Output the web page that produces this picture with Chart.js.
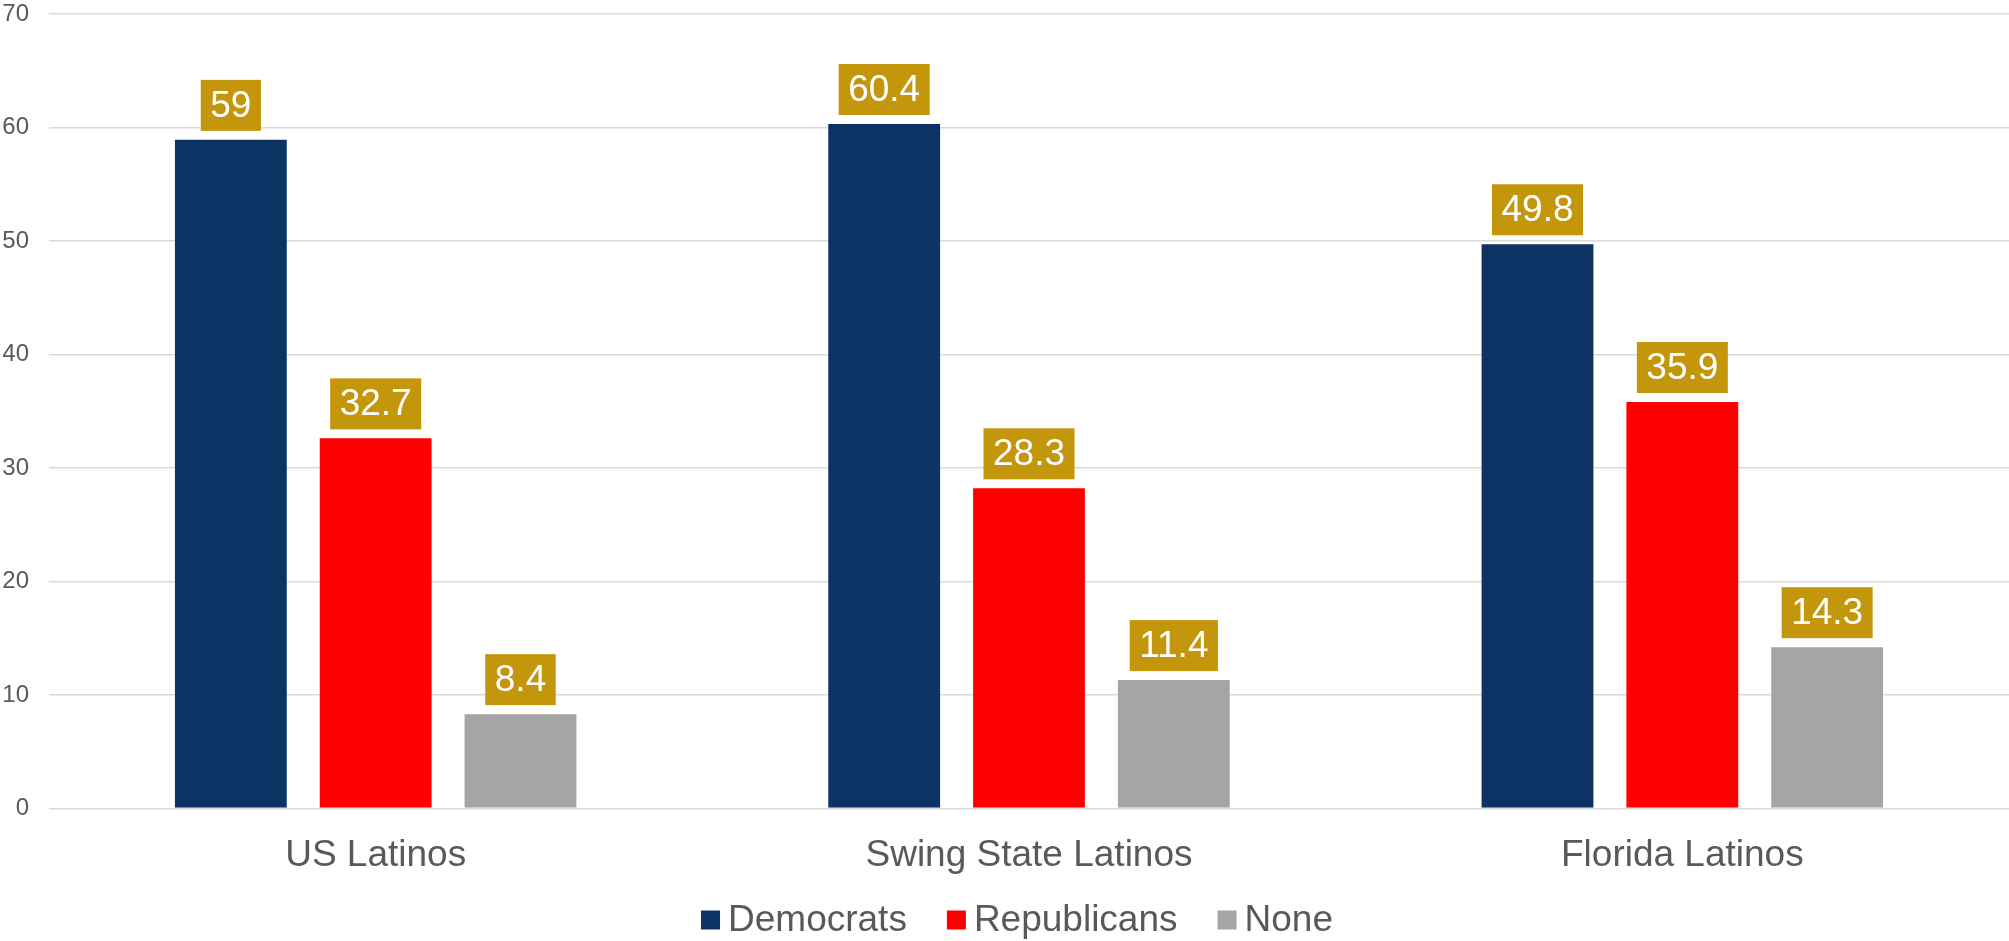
<!DOCTYPE html>
<html>
<head>
<meta charset="utf-8">
<script src="https://cdn.jsdelivr.net/npm/chart.js@4"></script>
<style>
  body { margin: 0; background: #fff; }
  #wrap { width: 2009px; height: 941px; }
</style>
</head>
<body>
<div id="wrap"><canvas id="chart"></canvas></div>
<script>
var categories = ["US Latinos", "Swing State Latinos", "Florida Latinos"]
var democrats = [59, 60.4, 49.8]
var republicans = [32.7, 28.3, 35.9]
var none = [8.4, 11.4, 14.3]
var yTicks = [0, 10, 20, 30, 40, 50, 60, 70]

var FONT = "'Liberation Sans', Arial, sans-serif"
var TEXT = '#595959'

// gold value boxes above each bar
var valueBoxes = {
    id: 'valueBoxes',
    afterDatasetsDraw: function (chart) {
        var ctx = chart.ctx
        ctx.save()
        ctx.font = '37px ' + FONT
        ctx.textAlign = 'center'
        ctx.textBaseline = 'middle'
        chart.data.datasets.forEach(function (ds, i) {
            chart.getDatasetMeta(i).data.forEach(function (bar, j) {
                var txt = String(ds.data[j])
                var w = ctx.measureText(txt).width + 19
                var h = 51
                var bottom = bar.y - 8
                ctx.fillStyle = '#C4960C'
                ctx.fillRect(bar.x - w / 2, bottom - h, w, h)
                ctx.fillStyle = '#ffffff'
                ctx.fillText(txt, bar.x, bottom - h / 2 + 1)
            })
        })
        ctx.restore()
    }
}

// legend like the office one: small square, tight gap to the text
var bottomLegend = {
    id: 'bottomLegend',
    afterDraw: function (chart) {
        var ctx = chart.ctx
        var box = 19, gap = 8, spacing = 40
        var y = chart.height - 21
        ctx.save()
        ctx.font = '37px ' + FONT
        ctx.textBaseline = 'middle'
        ctx.textAlign = 'left'
        var sets = chart.data.datasets
        var widths = sets.map(function (ds) { return box + gap + ctx.measureText(ds.label).width })
        var total = widths.reduce(function (a, b) { return a + b }, 0) + spacing * (sets.length - 1)
        var x = (chart.chartArea.left + chart.chartArea.right) / 2 - 12 - total / 2
        sets.forEach(function (ds, i) {
            ctx.fillStyle = ds.backgroundColor
            ctx.fillRect(x, y - box / 2, box, box)
            ctx.fillStyle = TEXT
            ctx.fillText(ds.label, x + box + gap, y + 1)
            x += widths[i] + spacing
        })
        ctx.restore()
    }
}

var ctx = document.getElementById('chart')

var chartGraph = new Chart(ctx, {
    type: 'bar',
    data: {
        labels: categories,
        datasets: [{
            label: 'Democrats',
            data: democrats,
            backgroundColor: '#0C3363',
            borderColor: 'rgba(255,255,255,0.35)',
            borderWidth: 1
        }, {
            label: 'Republicans',
            data: republicans,
            backgroundColor: '#FF0000',
            borderColor: 'rgba(255,255,255,0.35)',
            borderWidth: 1
        }, {
            label: 'None',
            data: none,
            backgroundColor: '#A5A5A5',
            borderColor: 'rgba(255,255,255,0.35)',
            borderWidth: 1
        }]
    },
    options: {
        responsive: true,
        maintainAspectRatio: false,
        animation: false,
        categoryPercentage: 0.665,
        barPercentage: 0.786,
        layout: {
            padding: { top: 14, left: 3, right: 0, bottom: 64.5 }
        },
        plugins: {
            tooltip: { enabled: false },
            legend: { display: false }
        },
        scales: {
            x: {
                grid: { display: false, drawTicks: false },
                border: { display: false },
                afterFit: function (scale) {
                    scale.height = 68
                },
                ticks: {
                    color: TEXT,
                    padding: 25.5,
                    font: { family: FONT, size: 37 }
                }
            },
            y: {
                min: 0,
                max: 70,
                afterBuildTicks: function (axis) {
                    axis.ticks = yTicks.map(function (v) { return { value: v } })
                },
                afterFit: function (scale) {
                    scale.width = 46
                    scale.paddingTop = 0
                    scale.paddingBottom = 0
                },
                grid: { color: '#D9D9D9', lineWidth: 1.5, drawTicks: false },
                border: { display: false },
                ticks: {
                    color: TEXT,
                    padding: 20,
                    font: { family: FONT, size: 24 }
                }
            }
        }
    },
    plugins: [valueBoxes, bottomLegend]
})
</script>
</body>
</html>
